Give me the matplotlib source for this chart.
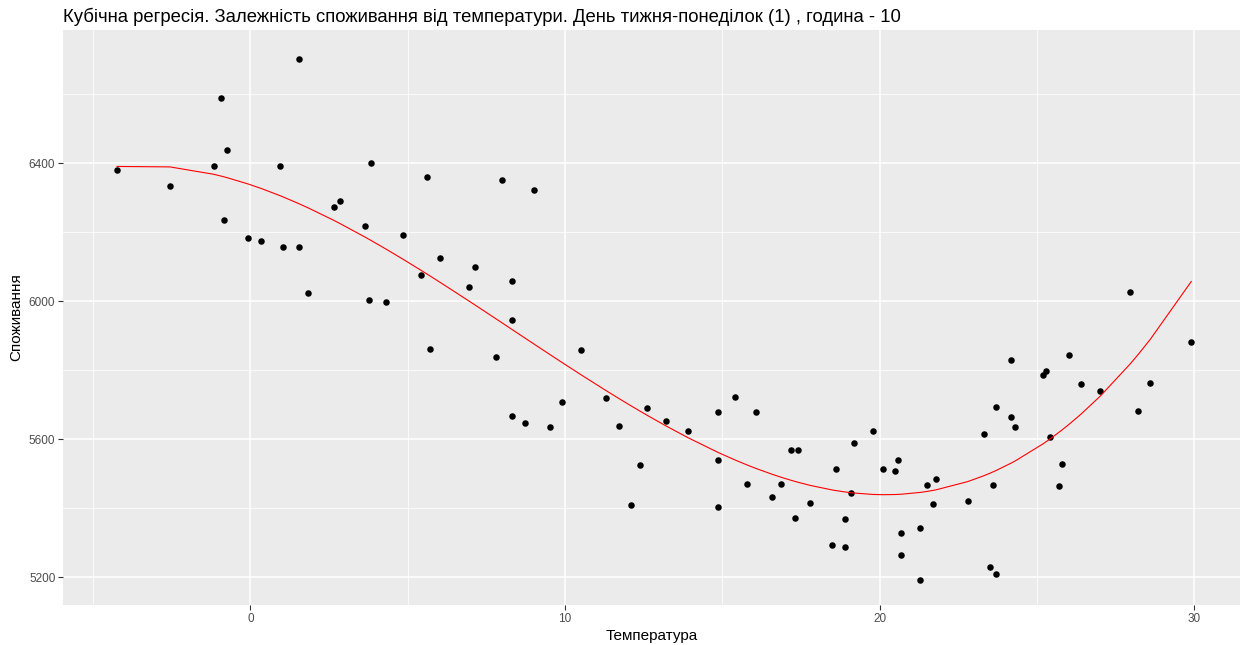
import numpy as np
import matplotlib
matplotlib.use('Agg')
import matplotlib.pyplot as plt

plt.rcParams['font.family'] = ['Liberation Sans', 'DejaVu Sans']

# temperature / consumption pairs, monday, hour 10
temp = [-4.24, -2.56, -1.17, -0.95, -0.75, -0.85, -0.08, 0.34, 0.93, 1.03,
        1.54, 1.54, 1.84, 2.64, 2.85, 3.64, 3.83, 3.76, 4.32, 4.84,
        5.61, 5.41, 6.04, 8.01, 9.00, 7.14, 6.94, 8.33, 8.33, 5.72,
        7.81, 10.52, 8.33, 8.72, 9.53, 9.91, 11.30, 11.72, 12.60, 13.20,
        13.92, 12.39, 12.11, 14.87, 14.87, 14.87, 15.39, 16.07, 15.78, 16.59,
        16.88, 17.18, 17.41, 17.31, 17.80, 18.50, 18.61, 18.90, 18.90, 19.09,
        19.19, 19.80, 20.10, 20.49, 20.58, 20.68, 20.68, 21.30, 21.30, 21.50,
        21.70, 21.79, 22.80, 23.31, 23.50, 23.70, 23.61, 23.70, 24.19, 24.19,
        24.32, 25.20, 25.29, 25.42, 25.81, 25.72, 26.01, 26.40, 27.02, 27.97,
        28.22, 28.61, 29.91]
cons = [6379, 6333, 6391, 6588, 6438, 6235, 6182, 6176, 6391, 6156,
        6156, 6703, 6023, 6273, 6291, 6218, 6400, 6003, 5999, 6191,
        6361, 6076, 6126, 6350, 6321, 6100, 6041, 6058, 5946, 5861,
        5840, 5858, 5669, 5646, 5635, 5708, 5719, 5640, 5692, 5652,
        5625, 5525, 5410, 5678, 5539, 5403, 5723, 5678, 5472, 5433,
        5472, 5570, 5570, 5371, 5416, 5295, 5513, 5369, 5288, 5445,
        5590, 5623, 5513, 5507, 5540, 5330, 5265, 5344, 5191, 5469,
        5413, 5484, 5422, 5616, 5230, 5209, 5469, 5694, 5830, 5664,
        5635, 5785, 5798, 5606, 5528, 5466, 5844, 5759, 5741, 6026,
        5681, 5762, 5883]

x_ticks = [0, 10, 20, 30]
y_ticks = [5200, 5600, 6000, 6400]

title = 'Кубічна регресія. Залежність споживання від температури. День тижня-понеділок (1) , година - 10'

temp = np.array(temp)
cons = np.array(cons)

# cubic fit, drawn through the fitted values at the observed temperatures
coef = np.polyfit(temp, cons, 3)
xs = np.sort(np.unique(temp))
ys = np.polyval(coef, xs)

fig = plt.figure(figsize=(12.45, 6.45), dpi=100)
ax = fig.add_axes([63/1245, 1-605/645, (1240-63)/1245, (605-30)/645])
ax.set_facecolor('#EBEBEB')

ax.set_xlim(-5.96, 31.46)
ax.set_ylim(5120, 6786)

ax.set_xticks(x_ticks)
ax.set_yticks(y_ticks)
ax.set_xticks([-5, 5, 15, 25], minor=True)
ax.set_yticks([5400, 5800, 6200, 6600], minor=True)
ax.grid(which='major', color='white', linewidth=1.1)
ax.grid(which='minor', color='white', linewidth=0.55)
ax.set_axisbelow(True)
for s in ax.spines.values():
    s.set_visible(False)
ax.tick_params(which='major', length=3.5, width=0.8, color='#333333',
               labelsize=8.5, labelcolor='#4D4D4D', pad=2)
ax.tick_params(which='minor', length=0)

ax.scatter(temp, cons, s=22, color='black', linewidths=0, zorder=3)
ax.plot(xs, ys, color='red', linewidth=0.8, zorder=4)

ax.set_xlabel('Температура', fontsize=11, labelpad=3)
ax.set_ylabel('Споживання', fontsize=11, labelpad=4)
ax.set_title(title, fontsize=13.3, loc='left', pad=6)

fig.savefig('out.png', dpi=100)
